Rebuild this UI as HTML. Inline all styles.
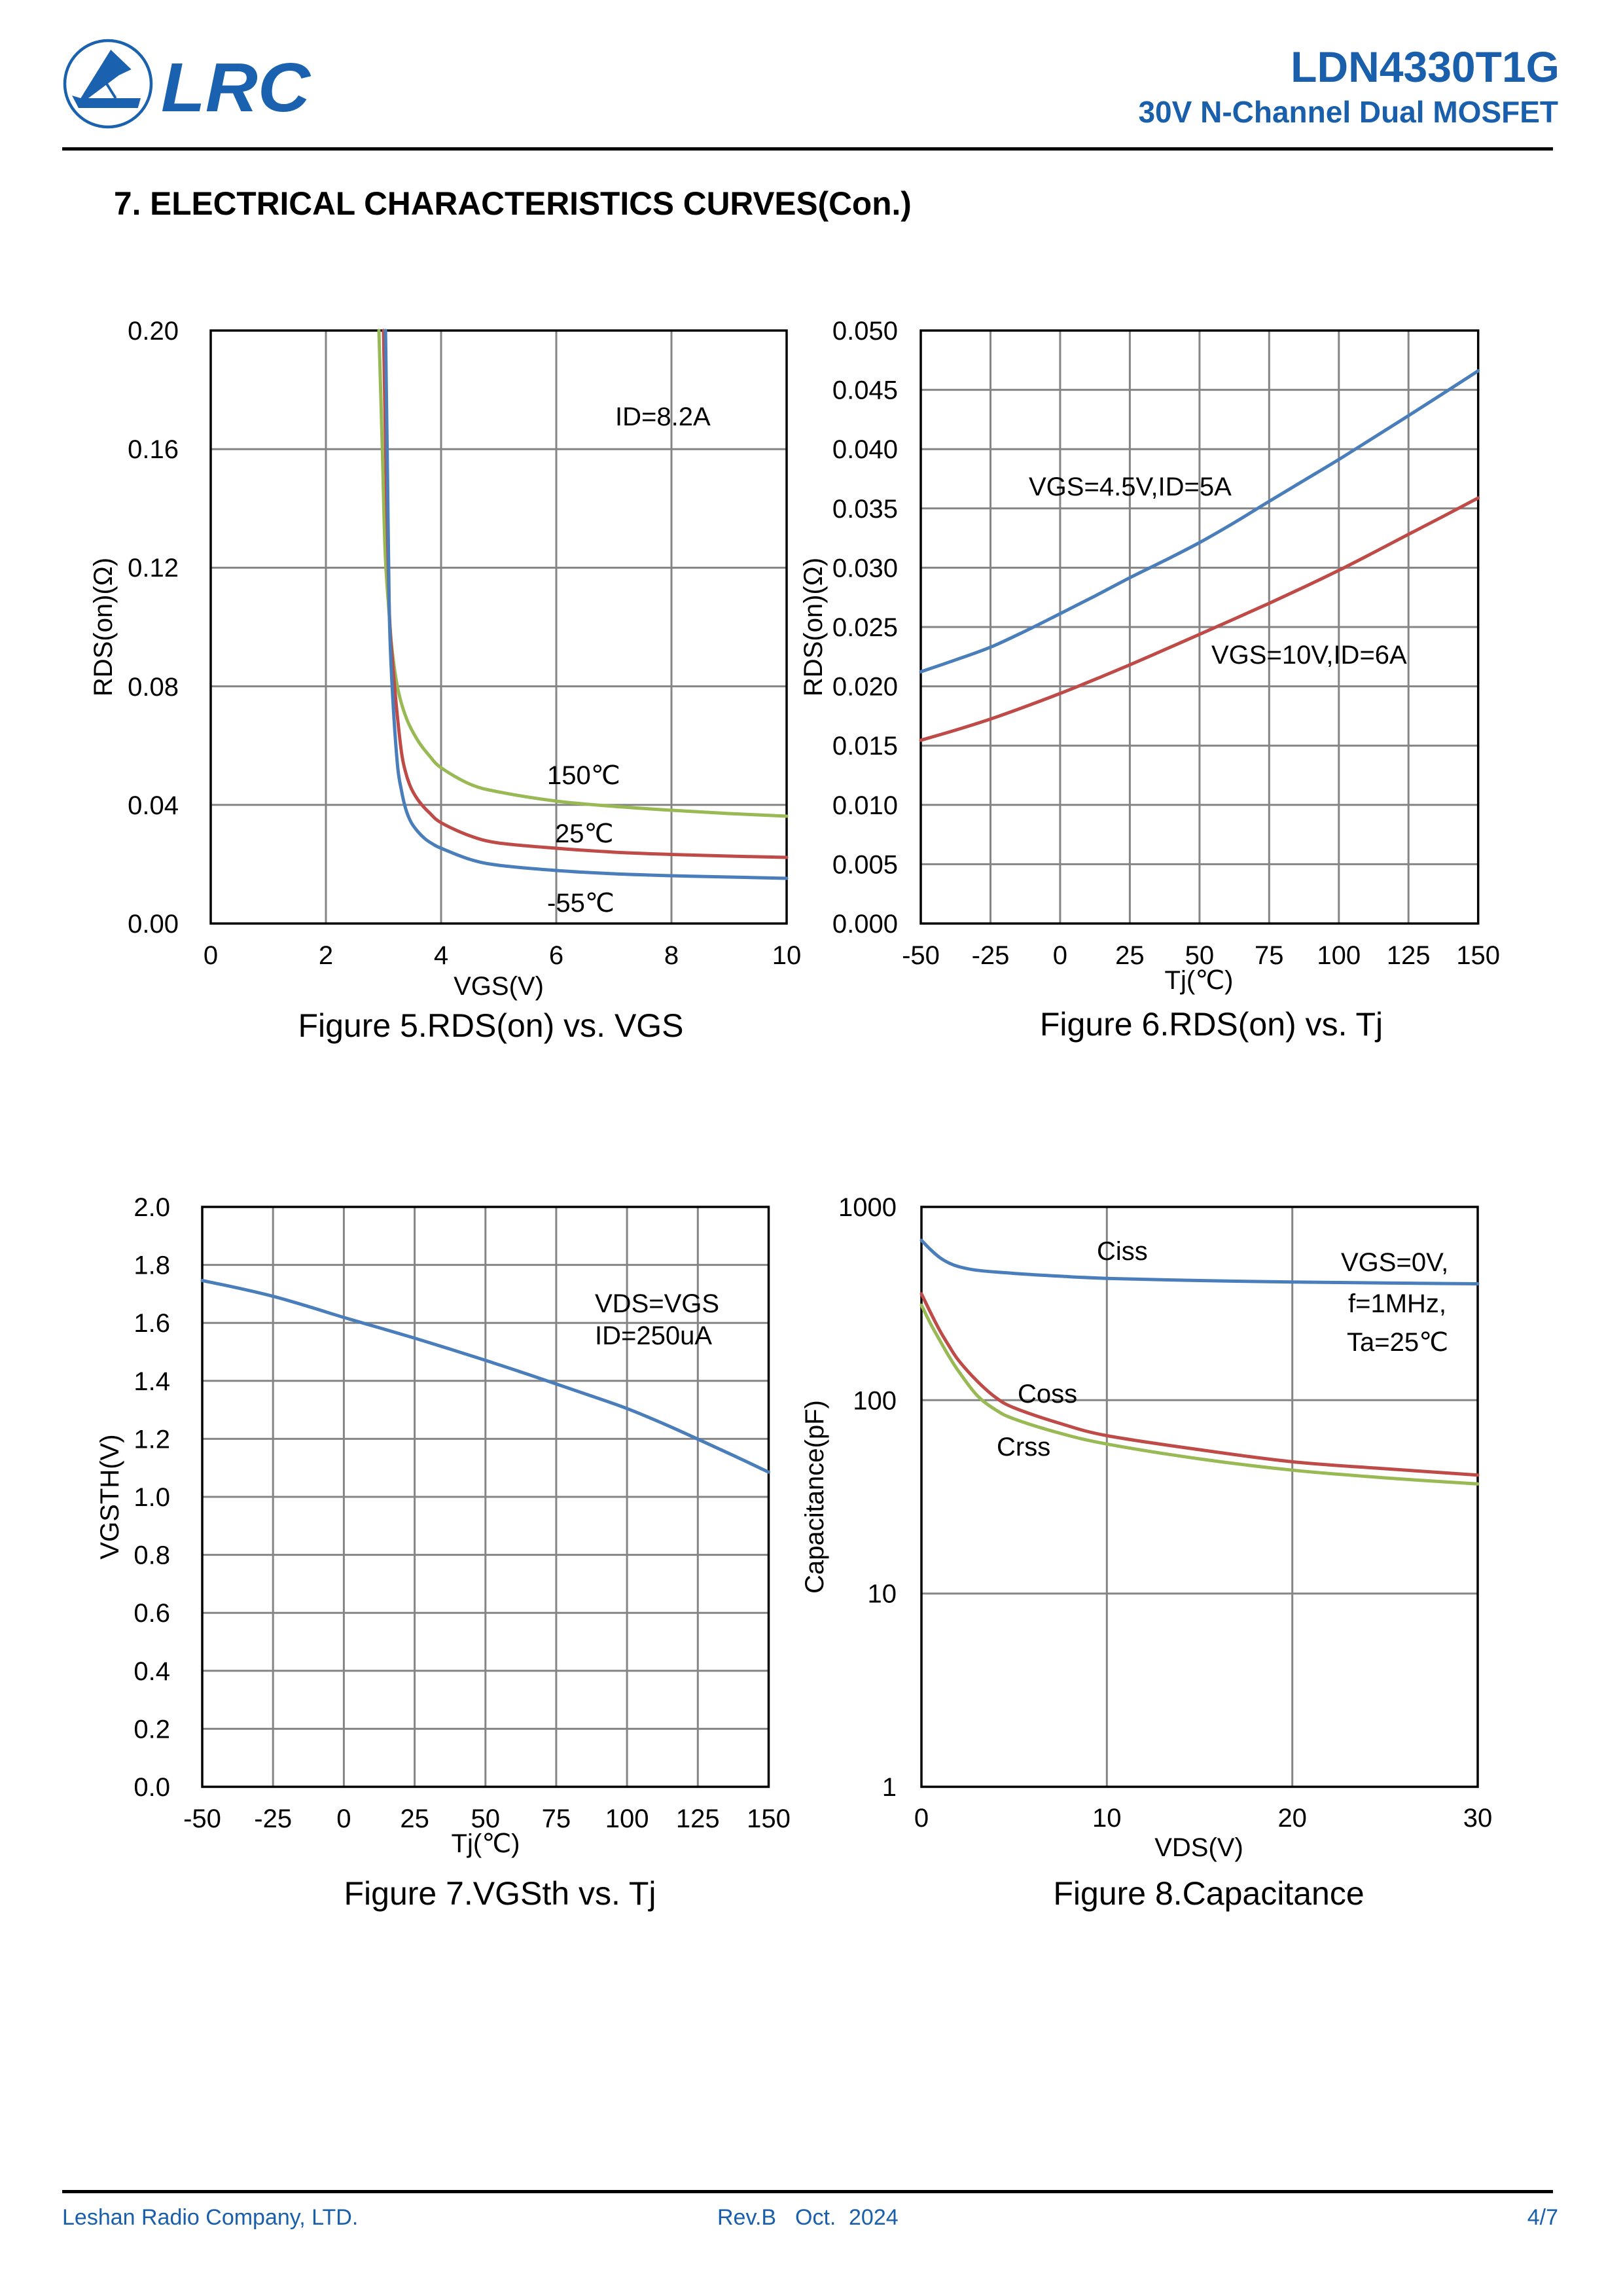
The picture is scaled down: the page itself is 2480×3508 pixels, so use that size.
<!DOCTYPE html>
<html>
<head>
<meta charset="utf-8">
<style>
html,body{margin:0;padding:0;background:#fff;}
svg{display:block;}
text{font-family:"Liberation Sans","DejaVu Sans","Noto Sans CJK SC",sans-serif;}
.t{font-size:40px;fill:#000;}
.ttl{font-size:50px;fill:#000;}
.g{stroke:#858585;stroke-width:3;fill:none;}
.f{stroke:#000;stroke-width:3.5;fill:none;}
.cb{stroke:#4a7ebb;stroke-width:5;fill:none;stroke-linejoin:round;stroke-linecap:round;}
.cr{stroke:#be4b48;stroke-width:5;fill:none;stroke-linejoin:round;stroke-linecap:round;}
.cg{stroke:#98b954;stroke-width:5;fill:none;stroke-linejoin:round;stroke-linecap:round;}
.blue{fill:#1a5fab;}
</style>
</head>
<body>
<svg width="2480" height="3508" viewBox="0 0 2480 3508" xmlns="http://www.w3.org/2000/svg">
<rect x="0" y="0" width="2480" height="3508" fill="#fff"/>

<!-- ===== HEADER ===== -->
<circle cx="165" cy="128" r="66" fill="none" stroke="#1a62b0" stroke-width="4.5"/>
<polygon points="169.3,76 200.7,106 181.7,115 135,150 123.3,150" fill="#1a62b0"/>
<line x1="161.7" y1="126" x2="176.7" y2="150" stroke="#1a62b0" stroke-width="4"/>
<polygon points="110,146 123.3,150 215,150 210.7,165 120,165" fill="#1a62b0"/>
<text x="246" y="170" font-size="106" font-weight="bold" font-style="italic" fill="#1a62b0" textLength="228" lengthAdjust="spacingAndGlyphs">LRC</text>

<text x="2383" y="125" font-size="66" font-weight="bold" text-anchor="end" class="blue">LDN4330T1G</text>
<text x="2381" y="187" font-size="46" font-weight="bold" text-anchor="end" class="blue">30V N-Channel Dual MOSFET</text>
<rect x="95" y="225" width="2278" height="5" fill="#000"/>

<text x="174" y="328" font-size="49.6" font-weight="bold" fill="#000">7. ELECTRICAL CHARACTERISTICS CURVES(Con.)</text>

<!-- ===== FIGURE 5 ===== -->
<g>
<line class="g" x1="498" y1="505" x2="498" y2="1411"/>
<line class="g" x1="674" y1="505" x2="674" y2="1411"/>
<line class="g" x1="850" y1="505" x2="850" y2="1411"/>
<line class="g" x1="1026" y1="505" x2="1026" y2="1411"/>
<line class="g" x1="322" y1="686.2" x2="1202" y2="686.2"/>
<line class="g" x1="322" y1="867.4" x2="1202" y2="867.4"/>
<line class="g" x1="322" y1="1048.6" x2="1202" y2="1048.6"/>
<line class="g" x1="322" y1="1229.8" x2="1202" y2="1229.8"/>
<rect class="f" x="322" y="505" width="880" height="906"/>

<g class="t" text-anchor="end">
<text x="273" y="519">0.20</text>
<text x="273" y="700">0.16</text>
<text x="273" y="881">0.12</text>
<text x="273" y="1063">0.08</text>
<text x="273" y="1244">0.04</text>
<text x="273" y="1425">0.00</text>
</g>
<g class="t" text-anchor="middle">
<text x="322" y="1473">0</text>
<text x="498" y="1473">2</text>
<text x="674" y="1473">4</text>
<text x="850" y="1473">6</text>
<text x="1026" y="1473">8</text>
<text x="1202" y="1473">10</text>
<text x="762" y="1520">VGS(V)</text>
<text x="171" y="958" transform="rotate(-90 171 958)">RDS(on)(Ω)</text>
</g>

<polyline class="cg sm" points="579,505 584.2,686 588.6,845 594.8,940 599.2,994 608,1053 621.2,1098 638.8,1132 656.4,1155 674,1173 718,1198 762,1210 850,1224 938,1232 1026,1238 1114,1243 1202,1247"/>
<polyline class="cr sm" points="586,505 590.4,741 594.8,931 599.2,1003 605.4,1076 613.3,1148 619,1177 626,1199 634,1215 644,1229 656.4,1242 674,1257 718,1277 762,1288 850,1296 938,1302 1026,1305.5 1114,1308 1202,1310"/>
<polyline class="cb sm" points="589.1,505 592.2,731 594.8,935 599.2,1049 607.1,1166 613.3,1207 620,1236 628,1256 638,1270 650,1282 662,1290 674,1296 718,1313 762,1322 850,1330 938,1335 1026,1338 1114,1340 1202,1342"/>

<g class="t">
<text x="940" y="650">ID=8.2A</text>
<text x="836" y="1198">150℃</text>
<text x="848" y="1287">25℃</text>
<text x="836" y="1393">-55℃</text>
</g>
<text class="ttl" x="750" y="1584" text-anchor="middle">Figure 5.RDS(on) vs. VGS</text>
</g>

<!-- ===== FIGURE 6 ===== -->
<g>
<line class="g" x1="1513.5" y1="505" x2="1513.5" y2="1411"/>
<line class="g" x1="1619.9" y1="505" x2="1619.9" y2="1411"/>
<line class="g" x1="1726.4" y1="505" x2="1726.4" y2="1411"/>
<line class="g" x1="1832.9" y1="505" x2="1832.9" y2="1411"/>
<line class="g" x1="1939.3" y1="505" x2="1939.3" y2="1411"/>
<line class="g" x1="2045.8" y1="505" x2="2045.8" y2="1411"/>
<line class="g" x1="2152.2" y1="505" x2="2152.2" y2="1411"/>
<line class="g" x1="1407" y1="595.6" x2="2258.7" y2="595.6"/>
<line class="g" x1="1407" y1="686.2" x2="2258.7" y2="686.2"/>
<line class="g" x1="1407" y1="776.8" x2="2258.7" y2="776.8"/>
<line class="g" x1="1407" y1="867.4" x2="2258.7" y2="867.4"/>
<line class="g" x1="1407" y1="958" x2="2258.7" y2="958"/>
<line class="g" x1="1407" y1="1048.6" x2="2258.7" y2="1048.6"/>
<line class="g" x1="1407" y1="1139.2" x2="2258.7" y2="1139.2"/>
<line class="g" x1="1407" y1="1229.8" x2="2258.7" y2="1229.8"/>
<line class="g" x1="1407" y1="1320.4" x2="2258.7" y2="1320.4"/>
<rect class="f" x="1407" y="505" width="851.7" height="906"/>

<g class="t" text-anchor="end">
<text x="1372" y="519">0.050</text>
<text x="1372" y="609.6">0.045</text>
<text x="1372" y="700.2">0.040</text>
<text x="1372" y="790.8">0.035</text>
<text x="1372" y="881.4">0.030</text>
<text x="1372" y="972">0.025</text>
<text x="1372" y="1062.6">0.020</text>
<text x="1372" y="1153.2">0.015</text>
<text x="1372" y="1243.8">0.010</text>
<text x="1372" y="1334.4">0.005</text>
<text x="1372" y="1425">0.000</text>
</g>
<g class="t" text-anchor="middle">
<text x="1407" y="1473">-50</text>
<text x="1513.5" y="1473">-25</text>
<text x="1619.9" y="1473">0</text>
<text x="1726.4" y="1473">25</text>
<text x="1832.9" y="1473">50</text>
<text x="1939.3" y="1473">75</text>
<text x="2045.8" y="1473">100</text>
<text x="2152.2" y="1473">125</text>
<text x="2258.7" y="1473">150</text>
<text x="1832" y="1511">Tj(℃)</text>
<text x="1256" y="958" transform="rotate(-90 1256 958)">RDS(on)(Ω)</text>
</g>

<polyline class="cb sm" points="1407,1026.4 1460.2,1008.2 1513.5,988.8 1566.7,964.2 1619.9,937.6 1673.2,910.6 1726.4,882.7 1779.7,856.4 1832.9,829 1886.1,798.5 1939.3,766 1992.6,734 2045.8,702 2099,668.6 2152.2,635.1 2205.5,601 2258.7,566.6"/>
<polyline class="cr sm" points="1407,1131 1460.2,1115.5 1513.5,1098.6 1566.7,1079.6 1619.9,1059.5 1673.2,1038 1726.4,1015.8 1779.7,992.6 1832.9,969.2 1886.1,945.6 1939.3,921.8 1992.6,897 2045.8,871.4 2099,844.2 2152.2,816.4 2205.5,788.8 2258.7,760.8"/>

<g class="t">
<text x="1572" y="757">VGS=4.5V,ID=5A</text>
<text x="1851" y="1014">VGS=10V,ID=6A</text>
</g>
<text class="ttl" x="1851" y="1582" text-anchor="middle">Figure 6.RDS(on) vs. Tj</text>
</g>

<!-- ===== FIGURE 7 ===== -->
<g>
<line class="g" x1="417.2" y1="1844" x2="417.2" y2="2730"/>
<line class="g" x1="525.4" y1="1844" x2="525.4" y2="2730"/>
<line class="g" x1="633.6" y1="1844" x2="633.6" y2="2730"/>
<line class="g" x1="741.8" y1="1844" x2="741.8" y2="2730"/>
<line class="g" x1="849.9" y1="1844" x2="849.9" y2="2730"/>
<line class="g" x1="958.1" y1="1844" x2="958.1" y2="2730"/>
<line class="g" x1="1066.3" y1="1844" x2="1066.3" y2="2730"/>
<line class="g" x1="309" y1="1932.6" x2="1174.5" y2="1932.6"/>
<line class="g" x1="309" y1="2021.2" x2="1174.5" y2="2021.2"/>
<line class="g" x1="309" y1="2109.8" x2="1174.5" y2="2109.8"/>
<line class="g" x1="309" y1="2198.4" x2="1174.5" y2="2198.4"/>
<line class="g" x1="309" y1="2287" x2="1174.5" y2="2287"/>
<line class="g" x1="309" y1="2375.6" x2="1174.5" y2="2375.6"/>
<line class="g" x1="309" y1="2464.2" x2="1174.5" y2="2464.2"/>
<line class="g" x1="309" y1="2552.8" x2="1174.5" y2="2552.8"/>
<line class="g" x1="309" y1="2641.4" x2="1174.5" y2="2641.4"/>
<rect class="f" x="309" y="1844" width="865.5" height="886"/>

<g class="t" text-anchor="end">
<text x="260" y="1858">2.0</text>
<text x="260" y="1946.6">1.8</text>
<text x="260" y="2035.2">1.6</text>
<text x="260" y="2123.8">1.4</text>
<text x="260" y="2212.4">1.2</text>
<text x="260" y="2301">1.0</text>
<text x="260" y="2389.6">0.8</text>
<text x="260" y="2478.2">0.6</text>
<text x="260" y="2566.8">0.4</text>
<text x="260" y="2655.4">0.2</text>
<text x="260" y="2744">0.0</text>
</g>
<g class="t" text-anchor="middle">
<text x="309" y="2792">-50</text>
<text x="417.2" y="2792">-25</text>
<text x="525.4" y="2792">0</text>
<text x="633.6" y="2792">25</text>
<text x="741.8" y="2792">50</text>
<text x="849.9" y="2792">75</text>
<text x="958.1" y="2792">100</text>
<text x="1066.3" y="2792">125</text>
<text x="1174.5" y="2792">150</text>
<text x="742" y="2830">Tj(℃)</text>
<text x="181" y="2287" transform="rotate(-90 181 2287)">VGSTH(V)</text>
</g>

<polyline class="cb sm" points="309,1956.5 363.1,1967.8 417.2,1980.6 471.3,1996.2 525.4,2012.9 579.5,2028.6 633.6,2044.5 687.7,2061.2 741.8,2078.4 795.9,2096.2 849.9,2114.5 904,2133 958.1,2152.1 1012.2,2174.5 1066.3,2198.8 1120.4,2223.7 1174.5,2249.2"/>

<g class="t">
<text x="909" y="2005">VDS=VGS</text>
<text x="909" y="2054">ID=250uA</text>
</g>
<text class="ttl" x="764" y="2910" text-anchor="middle">Figure 7.VGSth vs. Tj</text>
</g>

<!-- ===== FIGURE 8 ===== -->
<g>
<line class="g" x1="1691.3" y1="1844" x2="1691.3" y2="2730"/>
<line class="g" x1="1974.7" y1="1844" x2="1974.7" y2="2730"/>
<line class="g" x1="1408" y1="2139.3" x2="2258" y2="2139.3"/>
<line class="g" x1="1408" y1="2434.7" x2="2258" y2="2434.7"/>
<rect class="f" x="1408" y="1844" width="850" height="886"/>

<g class="t" text-anchor="end">
<text x="1370" y="1858">1000</text>
<text x="1370" y="2153.3">100</text>
<text x="1370" y="2448.7">10</text>
<text x="1370" y="2744">1</text>
</g>
<g class="t" text-anchor="middle">
<text x="1408" y="2791">0</text>
<text x="1691.3" y="2791">10</text>
<text x="1974.7" y="2791">20</text>
<text x="2258" y="2791">30</text>
<text x="1832" y="2836">VDS(V)</text>
<text x="1258" y="2287" transform="rotate(-90 1258 2287)">Capacitance(pF)</text>
</g>

<polyline class="cb sm" points="1408,1895 1422.2,1909.5 1436.3,1921.6 1450.5,1929.9 1464.7,1935.2 1493,1940.8 1549.7,1945.6 1620.5,1949.9 1691.3,1953.2 1833,1956.5 1974.7,1958.7 2116.3,1960.2 2258,1961.5"/>
<polyline class="cg sm" points="1408,1994.1 1422.2,2023 1436.3,2048.3 1450.5,2073 1464.7,2095 1493,2132 1521.3,2154 1549.7,2168 1620.5,2190 1691.3,2206.3 1833,2229 1974.7,2246.2 2116.3,2258 2258,2267.3"/>
<polyline class="cr sm" points="1408,1976.8 1422.2,2006 1436.3,2033.3 1450.5,2057 1464.7,2078.4 1493,2110 1521.3,2135 1549.7,2151 1620.5,2175 1691.3,2193.5 1833,2215 1974.7,2233.4 2116.3,2244 2258,2253.7"/>

<g class="t">
<text x="1676" y="1925">Ciss</text>
<text x="2049" y="1942">VGS=0V,</text>
<text x="2060" y="2005">f=1MHz,</text>
<text x="2058" y="2064">Ta=25℃</text>
<text x="1555" y="2143">Coss</text>
<text x="1523" y="2224">Crss</text>
</g>
<text class="ttl" x="1847" y="2910" text-anchor="middle">Figure 8.Capacitance</text>
</g>

<!-- ===== FOOTER ===== -->
<rect x="95" y="3346" width="2278" height="5" fill="#000"/>
<g font-size="34" class="blue">
<text x="95" y="3399">Leshan Radio Company, LTD.</text>
<text x="1096" y="3399">Rev.B</text>
<text x="1215" y="3399">Oct.</text>
<text x="1297" y="3399">2024</text>
<text x="2381" y="3399" text-anchor="end">4/7</text>
</g>
</svg>
<script>
(function(){
  var NS="http://www.w3.org/2000/svg";
  var pls=document.querySelectorAll("polyline.sm");
  for(var k=0;k<pls.length;k++){
    var pl=pls[k];
    var raw=pl.getAttribute("points").trim().split(/\s+/);
    var P=[];
    for(var i=0;i<raw.length;i++){var a=raw[i].split(",");P.push([parseFloat(a[0]),parseFloat(a[1])]);}
    if(P.length<3) continue;
    var d="M"+P[0][0]+","+P[0][1];
    for(var i=0;i<P.length-1;i++){
      var p0=P[i>0?i-1:i],p1=P[i],p2=P[i+1],p3=P[i+2<P.length?i+2:i+1];
      var c1x=p1[0]+(p2[0]-p0[0])/6,c1y=p1[1]+(p2[1]-p0[1])/6;
      var c2x=p2[0]-(p3[0]-p1[0])/6,c2y=p2[1]-(p3[1]-p1[1])/6;
      d+=" C"+c1x.toFixed(2)+","+c1y.toFixed(2)+" "+c2x.toFixed(2)+","+c2y.toFixed(2)+" "+p2[0]+","+p2[1];
    }
    var path=document.createElementNS(NS,"path");
    path.setAttribute("d",d);
    path.setAttribute("class",pl.getAttribute("class"));
    pl.parentNode.replaceChild(path,pl);
  }
})();
</script>
</body>
</html>
